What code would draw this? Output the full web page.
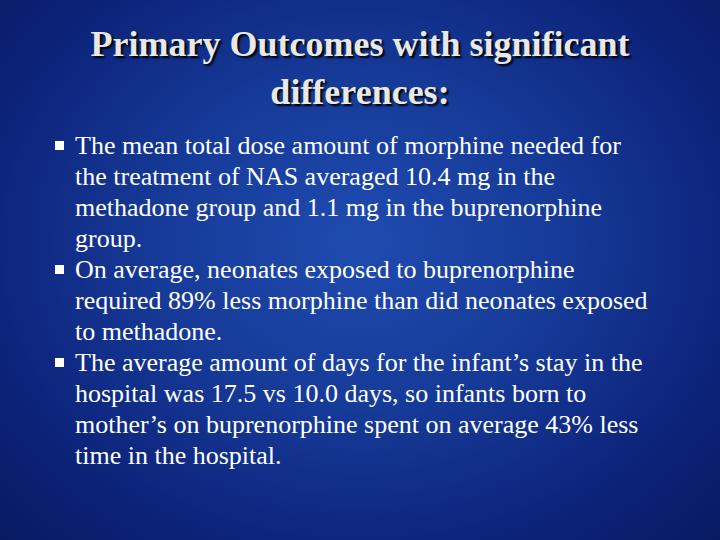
<!DOCTYPE html>
<html><head><meta charset="utf-8">
<script src="https://cdn.jsdelivr.net/npm/chart.js@4"></script>
<style>
html,body{margin:0;padding:0;width:720px;height:540px;overflow:hidden}
body{background:radial-gradient(ellipse at 50% 45%,#1f4bb0 0%,#163a98 40%,#0c237a 75%,#081a62 100%);font-family:"Liberation Serif","DejaVu Serif",serif;color:#fff;position:relative}
#title{position:absolute;left:0;width:720px;top:20px;text-align:center;line-height:48px;color:#e8e8e8;text-shadow:2px 2px 2px #000;white-space:nowrap}
#list{position:absolute;left:55px;top:130px;width:660px;margin:0;padding:0;list-style:none;line-height:31px}
#list li{position:relative;padding-left:20px;white-space:nowrap}
#list li:before{content:"";position:absolute;left:0;top:11px;width:9px;height:9px;background:#fff}
.m{position:absolute;visibility:hidden;white-space:nowrap;font-family:"Liberation Serif","DejaVu Serif",serif}
</style></head><body>
<div id="title"></div>
<ul id="list"></ul>
<script>
const titleLines=["Primary Outcomes with significant","differences:"];
const lineBreaks=[
["The mean total dose amount of morphine needed for","the treatment of NAS averaged 10.4 mg in the","methadone group and 1.1 mg in the buprenorphine","group."],
["On average, neonates exposed to buprenorphine","required 89% less morphine than did neonates exposed","to methadone."],
["The average amount of days for the infant’s stay in the","hospital was 17.5 vs 10.0 days, so infants born to","mother’s on buprenorphine spent on average 43% less","time in the hospital."]
];
function fit(text,target,bold){const s=document.createElement('span');s.className='m';s.style.fontSize='100px';if(bold)s.style.fontWeight='bold';s.textContent=text;document.body.appendChild(s);const w=s.getBoundingClientRect().width;s.remove();return Math.min(100*target/w,bold?36:26);}
const t=document.getElementById('title');
t.innerHTML=titleLines.join('<br>');t.style.fontWeight='bold';
t.style.fontSize=fit(titleLines[0],590,true)+'px';
const ul=document.getElementById('list');
ul.style.fontSize=fit(lineBreaks[0][0],573,false)+'px';
lineBreaks.forEach(l=>{const li=document.createElement('li');li.innerHTML=l.join('<br>');ul.appendChild(li);});
</script>
</body></html>
